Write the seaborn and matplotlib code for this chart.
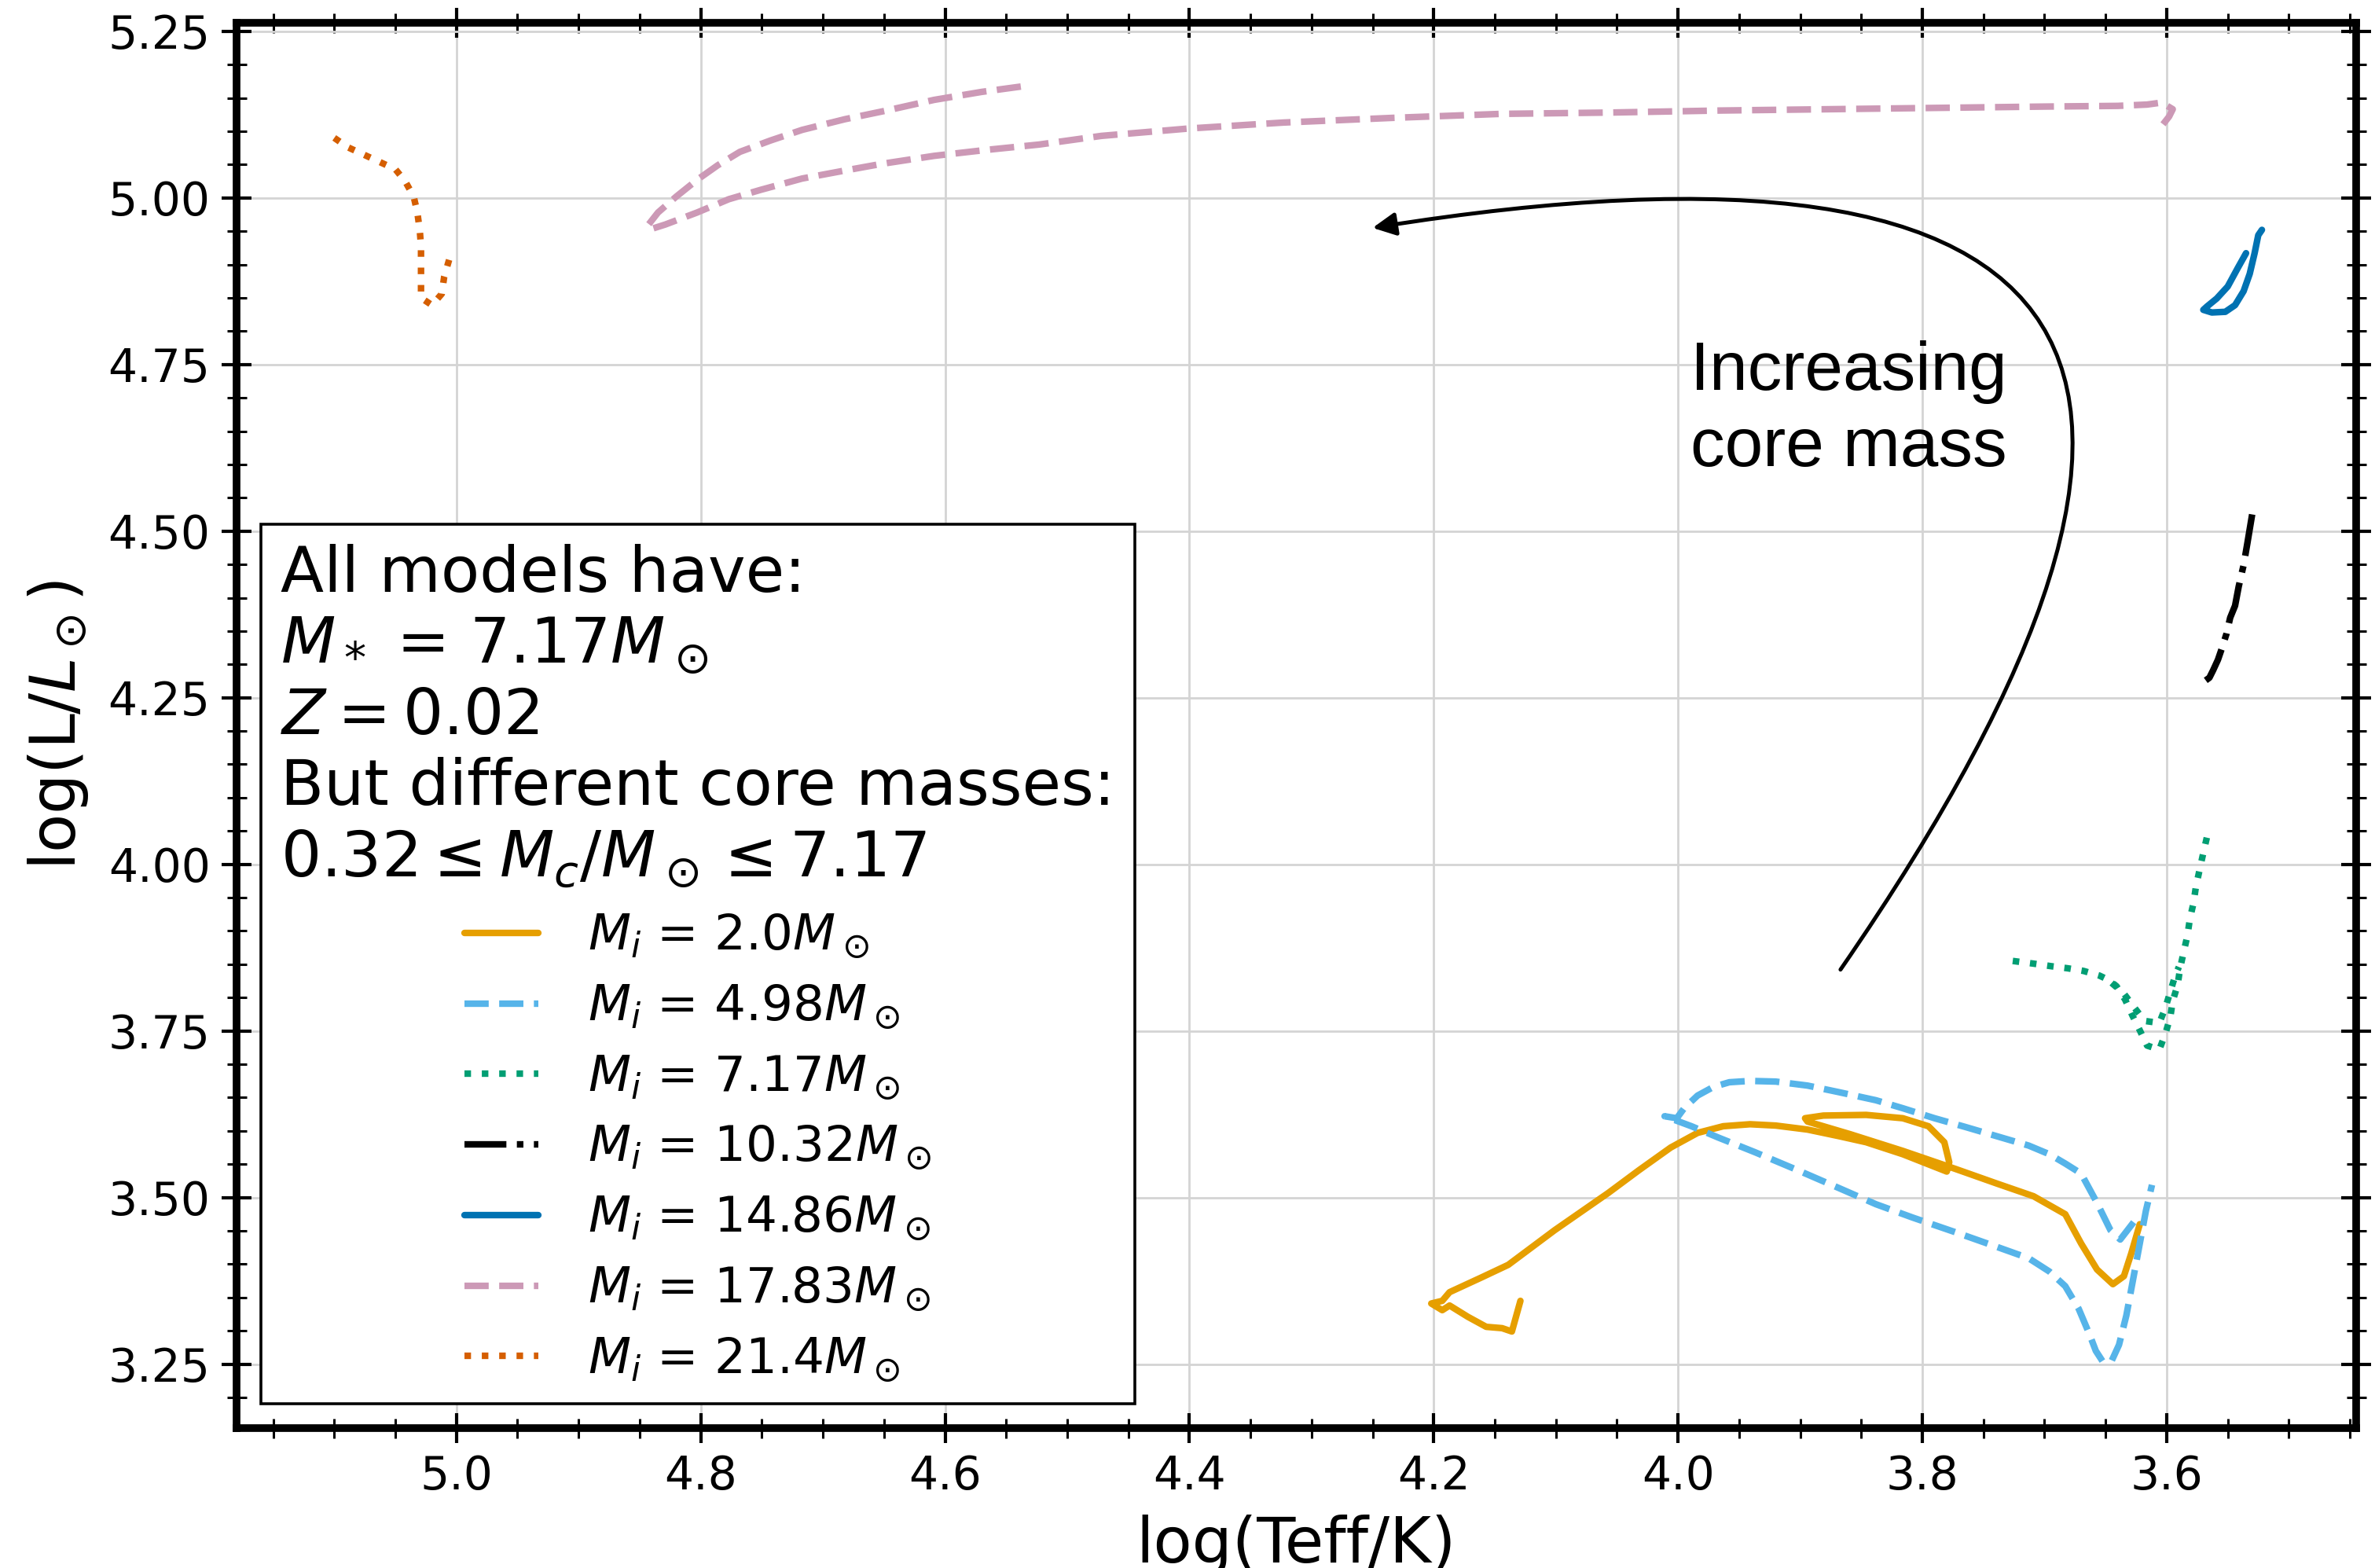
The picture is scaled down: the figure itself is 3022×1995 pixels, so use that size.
import numpy as np
import pandas as pd
import matplotlib
matplotlib.use("Agg")
import matplotlib.pyplot as plt
import seaborn as sns
from matplotlib.ticker import MultipleLocator

# ---------------- data ----------------
m2_teff = [4.129, 4.136, 4.144, 4.157, 4.172, 4.187, 4.193, 4.202, 4.193, 4.187, 4.161, 4.139,
           4.101, 4.057, 4.032, 4.006, 3.984, 3.963, 3.941, 3.920, 3.894, 3.868, 3.846, 3.816,
           3.780, 3.778, 3.782, 3.795, 3.816, 3.846, 3.881, 3.896, 3.894, 3.859, 3.816, 3.773,
           3.739, 3.709, 3.683, 3.670, 3.657, 3.644, 3.635, 3.629, 3.622]
m2_lum = [3.345, 3.299, 3.304, 3.306, 3.321, 3.338, 3.331, 3.341, 3.345, 3.358, 3.380, 3.399,
          3.451, 3.507, 3.541, 3.575, 3.597, 3.607, 3.610, 3.608, 3.602, 3.592, 3.583, 3.565,
          3.539, 3.553, 3.583, 3.607, 3.619, 3.624, 3.623, 3.619, 3.614, 3.595, 3.570, 3.543,
          3.521, 3.502, 3.475, 3.431, 3.392, 3.370, 3.382, 3.416, 3.460]

m498_teff = [3.627, 3.638, 3.646, 3.657, 3.670, 3.683, 3.696, 3.713, 3.739, 3.765, 3.790, 3.816,
             3.838, 3.868, 3.894, 3.920, 3.941, 3.958, 3.971, 3.984, 3.995, 4.001, 4.011, 3.989,
             3.967, 3.937, 3.902, 3.868, 3.838, 3.808, 3.773, 3.739, 3.713, 3.696, 3.683, 3.672,
             3.663, 3.658, 3.652, 3.645, 3.639, 3.633, 3.628, 3.622, 3.617, 3.612]
m498_lum = [3.463, 3.437, 3.451, 3.492, 3.536, 3.551, 3.565, 3.578, 3.592, 3.606, 3.619, 3.634,
            3.646, 3.658, 3.668, 3.674, 3.675, 3.673, 3.666, 3.653, 3.634, 3.619, 3.622, 3.607,
            3.590, 3.568, 3.541, 3.514, 3.490, 3.470, 3.448, 3.426, 3.409, 3.389, 3.367, 3.333,
            3.294, 3.270, 3.253, 3.255, 3.279, 3.323, 3.372, 3.431, 3.480, 3.519]

m717_teff = [3.726, 3.709, 3.694, 3.681, 3.668, 3.655, 3.647, 3.641, 3.634, 3.628, 3.622, 3.616,
             3.606, 3.601, 3.597, 3.595, 3.591, 3.589, 3.586, 3.583, 3.581, 3.578, 3.576, 3.573,
             3.570, 3.567]
m717_lum = [3.855, 3.851, 3.847, 3.844, 3.840, 3.833, 3.826, 3.817, 3.797, 3.773, 3.751, 3.728,
            3.722, 3.746, 3.771, 3.795, 3.819, 3.844, 3.869, 3.893, 3.918, 3.942, 3.967, 3.992,
            4.017, 4.041]
m717b_teff = [3.645, 3.635, 3.626, 3.618, 3.606, 3.601, 3.597, 3.593, 3.590]
m717b_lum = [3.822, 3.806, 3.784, 3.765, 3.762, 3.785, 3.809, 3.833, 3.846]

m1032_teff = [3.530, 3.534, 3.537, 3.541, 3.544, 3.548, 3.551, 3.555, 3.558, 3.562, 3.565, 3.568]
m1032_lum = [4.525, 4.481, 4.449, 4.417, 4.388, 4.370, 4.346, 4.323, 4.307, 4.291, 4.280, 4.276]

m1486_teff = [3.535, 3.542, 3.550, 3.559, 3.567, 3.570, 3.563, 3.552, 3.544, 3.537, 3.532, 3.528,
              3.525, 3.522]
m1486_lum = [4.917, 4.894, 4.867, 4.849, 4.837, 4.832, 4.828, 4.829, 4.839, 4.860, 4.886, 4.917,
             4.944, 4.952]

m1783_teff = [4.538, 4.570, 4.609, 4.648, 4.682, 4.717, 4.743, 4.768, 4.786, 4.803, 4.820, 4.835,
              4.844, 4.841, 4.829, 4.803, 4.777, 4.751, 4.717, 4.682, 4.652, 4.609, 4.566, 4.523,
              4.472, 4.401, 4.323, 4.234, 4.145, 4.056, 3.967, 3.877, 3.788, 3.699, 3.640, 3.616,
              3.604, 3.595, 3.598, 3.604]
m1783_lum = [5.167, 5.159, 5.147, 5.131, 5.118, 5.102, 5.086, 5.069, 5.049, 5.027, 5.002, 4.978,
             4.957, 4.953, 4.960, 4.978, 4.998, 5.012, 5.029, 5.041, 5.051, 5.063, 5.072, 5.080,
             5.093, 5.104, 5.113, 5.120, 5.126, 5.128, 5.131, 5.133, 5.135, 5.137, 5.138, 5.140,
             5.143, 5.133, 5.122, 5.108]

m214_teff = [5.100, 5.089, 5.076, 5.063, 5.050, 5.042, 5.035, 5.032, 5.030, 5.029, 5.029, 5.029,
             5.029, 5.020, 5.012, 5.010, 5.006]
m214_lum = [5.090, 5.076, 5.065, 5.054, 5.043, 5.025, 5.002, 4.978, 4.951, 4.927, 4.901, 4.876,
            4.850, 4.839, 4.856, 4.882, 4.907]

labels = [r"$M_i$ = 2.0$M_\odot$", r"$M_i$ = 4.98$M_\odot$", r"$M_i$ = 7.17$M_\odot$",
          r"$M_i$ = 10.32$M_\odot$", r"$M_i$ = 14.86$M_\odot$", r"$M_i$ = 17.83$M_\odot$",
          r"$M_i$ = 21.4$M_\odot$"]
colors = ["#E69F00", "#56B4E9", "#009E73", "#000000", "#0072B2", "#CC99B6", "#D55E00"]
styles = ["-", "--", ":", "-.", "-", "--", ":"]

legend_title = ("All models have:\n"
                r"$M_*$ = 7.17$M_\odot$" "\n"
                r"$Z = 0.02$" "\n"
                "But different core masses:\n"
                r"$0.32 \leq M_c/M_\odot \leq 7.17$")

# ---------------- style ----------------
sns.set_style("whitegrid", {"grid.color": "#d4d4d4", "axes.edgecolor": "black"})
plt.rcParams["font.family"] = ["DejaVu Sans"]
plt.rcParams["mathtext.fontset"] = "dejavusans"
plt.rcParams["text.color"] = "black"
plt.rcParams["axes.labelcolor"] = "black"
plt.rcParams["xtick.color"] = "black"
plt.rcParams["ytick.color"] = "black"

fig = plt.figure(figsize=(15.11, 9.975), dpi=200)
ax = fig.add_axes([0.0996, 0.0892, 0.8924, 0.8964])

tracks = [(m2_teff, m2_lum), (m498_teff, m498_lum), (m717_teff, m717_lum),
          (m1032_teff, m1032_lum), (m1486_teff, m1486_lum), (m1783_teff, m1783_lum),
          (m214_teff, m214_lum)]

LW = 3.0
for (tx, ty), c, ls, lab in zip(tracks, colors, styles, labels):
    df = pd.DataFrame({"teff": tx, "lum": ty})
    sns.lineplot(data=df, x="teff", y="lum", sort=False, estimator=None, ax=ax,
                 color=c, linestyle=ls, lw=LW, label=lab)
    if lab == labels[2]:
        dfb = pd.DataFrame({"teff": m717b_teff, "lum": m717b_lum})
        sns.lineplot(data=dfb, x="teff", y="lum", sort=False, estimator=None, ax=ax,
                     color=c, linestyle=ls, lw=LW, label="_nolegend_")

ax.set_xlim(5.18, 3.445)
ax.set_ylim(3.154, 5.263)

ax.xaxis.set_major_locator(MultipleLocator(0.2))
ax.xaxis.set_minor_locator(MultipleLocator(0.05))
ax.yaxis.set_major_locator(MultipleLocator(0.25))
ax.yaxis.set_minor_locator(MultipleLocator(0.05))
ax.tick_params(which="both", direction="inout", top=True, right=True, bottom=True, left=True,
               color="black", labelcolor="black")
ax.tick_params(which="major", length=14, width=1.5, labelsize=21, pad=5)
ax.tick_params(which="minor", length=9, width=1.1)
ax.grid(True, which="major", color="#d4d4d4", lw=1.0)
for sp in ax.spines.values():
    sp.set_linewidth(3.5)
    sp.set_color("black")

ax.set_xlabel("log(Teff/K)", fontsize=29, labelpad=7)
ax.set_ylabel(r"log(L/$L_\odot$)", fontsize=29, labelpad=8)

# arrow + annotation
ax.annotate("", xy=(4.25, 4.955), xytext=(3.867, 3.842),
            arrowprops=dict(arrowstyle="-|>", connectionstyle="arc3,rad=1.17",
                            color="black", lw=1.8, mutation_scale=22,
                            shrinkA=0, shrinkB=0))
ax.text(3.99, 4.597, "Increasing\ncore mass", fontsize=31.4, family="Liberation Sans",
        ha="left", va="baseline", linespacing=1.26, color="black")

handles, lbls = ax.get_legend_handles_labels()
leg = ax.legend(handles, lbls, title=legend_title, loc="lower left", fontsize=22.6,
                title_fontsize=29, frameon=True, fancybox=False, edgecolor="black",
                framealpha=1, handlelength=1.5, handletextpad=1.0, labelspacing=0.45,
                borderpad=0.4)
leg.get_title().set_multialignment("left")
leg.get_title().set_color("black")
for t in leg.get_texts():
    t.set_color("black")
leg.get_frame().set_linewidth(1.3)

fig.savefig("out.png", dpi=200, facecolor="white")
